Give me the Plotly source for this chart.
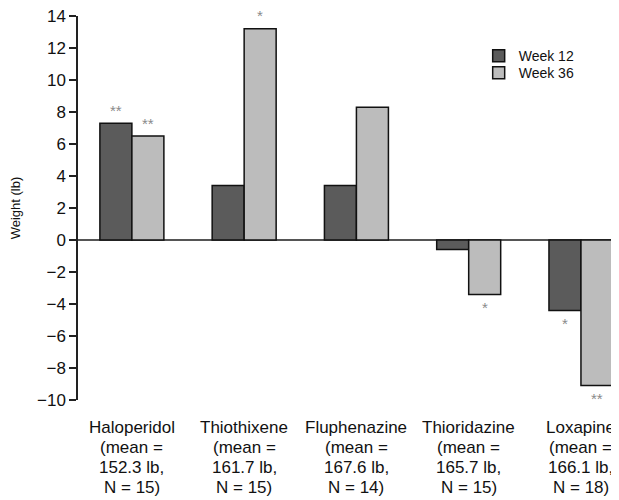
import plotly.graph_objects as go

categories = ["Haloperidol", "Thiothixene", "Fluphenazine", "Thioridazine", "Loxapine"]
label_lines = [
    ["Haloperidol", "(mean =", "152.3 lb,", "N = 15)"],
    ["Thiothixene", "(mean =", "161.7 lb,", "N = 15)"],
    ["Fluphenazine", "(mean =", "167.6 lb,", "N = 14)"],
    ["Thioridazine", "(mean =", "165.7 lb,", "N = 15)"],
    ["Loxapine", "(mean =", "166.1 lb,", "N = 18)"],
]
week12 = [7.3, 3.4, 3.4, -0.6, -4.4]
week36 = [6.5, 13.2, 8.3, -3.4, -9.1]
sig12 = ["**", "", "", "", "*"]
sig36 = ["**", "*", "", "*", "**"]

FONT = "Liberation Sans, Arial, sans-serif"
xs = list(range(len(categories)))
bargap = 0.43
bar_w = (1 - bargap) / 2

fig = go.Figure()
fig.add_trace(go.Bar(name="Week 12", x=xs, y=week12, legend="legend",
                     marker=dict(color="#5b5b5b", line=dict(color="#111111", width=1.5))))
fig.add_trace(go.Bar(name="Week 36", x=xs, y=week36, legend="legend2",
                     marker=dict(color="#bcbcbc", line=dict(color="#111111", width=1.5))))

annotations = []
for k, (vals, sigs) in enumerate([(week12, sig12), (week36, sig36)]):
    for i, (v, s) in enumerate(zip(vals, sigs)):
        if not s:
            continue
        annotations.append(dict(
            x=xs[i] + (k - 0.5) * bar_w, y=v, xref="x", yref="y",
            text=s, showarrow=False, yshift=13 if v >= 0 else -13,
            font=dict(family=FONT, size=15, color="#8a8a8a"),
        ))

# category labels, one text per line under each group
for i, lines in enumerate(label_lines):
    for j, line in enumerate(lines):
        annotations.append(dict(
            x=xs[i], y=0, xref="x", yref="paper", text=line, showarrow=False,
            yanchor="middle", yshift=-(27 + 20 * j),
            font=dict(family=FONT, size=17, color="#111111"),
        ))

legend_common = dict(xanchor="left", yanchor="top", bgcolor="rgba(0,0,0,0)",
                     font=dict(family=FONT, size=14, color="#111111"))

fig.update_layout(
    width=611, height=492,
    margin=dict(l=70, r=1, t=8, b=100),
    paper_bgcolor="white", plot_bgcolor="white",
    barmode="group", bargap=bargap, bargroupgap=0,
    font=dict(family=FONT, color="#111111"),
    showlegend=True,
    legend=dict(x=0.742, y=0.937, **legend_common),
    legend2=dict(x=0.742, y=0.893, **legend_common),
    annotations=annotations,
    xaxis=dict(
        tickmode="array", tickvals=xs, ticktext=categories, showticklabels=False,
        range=[-0.48, 4.33], showgrid=False, zeroline=False, showline=False,
        ticks="", automargin=False,
    ),
    yaxis=dict(
        range=[-10, 14], tickmode="linear", tick0=0, dtick=2, automargin=False,
        showgrid=False, showline=True, linecolor="#222222", linewidth=1.5,
        ticks="outside", ticklen=7, tickcolor="#222222", tickwidth=1.5,
        zeroline=True, zerolinecolor="#555555", zerolinewidth=2,
        ticklabeloverflow="allow",
        tickfont=dict(family=FONT, size=17, color="#111111"),
        title=dict(text="Weight (lb)", font=dict(family=FONT, size=13, color="#111111"), standoff=18),
    ),
)

fig.write_html("out.html")
